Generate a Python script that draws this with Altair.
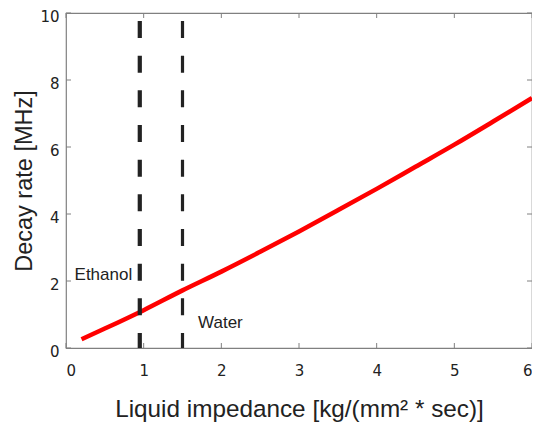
import altair as alt
import pandas as pd

# Curve data
impedance = [0.2, 0.5, 1.0, 1.5, 2.0, 2.5, 3.0, 3.5, 4.0, 4.5, 5.0, 5.5, 6.0]
decay_rate = [0.26, 0.58, 1.13, 1.72, 2.28, 2.87, 3.48, 4.11, 4.75, 5.41, 6.07, 6.76, 7.46]

# Reference liquids
liquids = ["Ethanol", "Water"]
liquid_impedance = [0.95, 1.5]
label_x = [0.11, 1.70]
label_y = [2.19, 0.76]

x_ticks = [0, 1, 2, 3, 4, 5, 6]
y_ticks = [0, 2, 4, 6, 8, 10]

W, H = 466, 335
FRAME = "#808080"
INK = "#222222"

curve = pd.DataFrame({"x": impedance, "y": decay_rate})
labels = pd.DataFrame({"name": liquids, "x": label_x, "y": label_y})
xt = pd.DataFrame({"v": x_ticks})
yt = pd.DataFrame({"v": y_ticks})

xscale = alt.Scale(domain=[0, 6], nice=False, zero=False)
yscale = alt.Scale(domain=[0, 10], nice=False, zero=False)

xaxis = alt.Axis(values=x_ticks, format="d", title="Liquid impedance [kg/(mm² * sec)]",
                 domain=False, ticks=False, tickSize=0, grid=False,
                 labelFont="DejaVu Sans", labelFontSize=15, labelColor=INK, labelPadding=15,
                 titleFont="Liberation Sans", titleFontSize=24.3, titleFontWeight="normal",
                 titleColor=INK, titlePadding=19)
yaxis = alt.Axis(values=y_ticks, format="d", title="Decay rate [MHz]",
                 domain=False, ticks=False, tickSize=0, grid=False,
                 labelFont="DejaVu Sans", labelFontSize=15, labelColor=INK, labelPadding=7,
                 labelOffset=3,
                 titleFont="Liberation Sans", titleFontSize=23.5, titleFontWeight="normal",
                 titleColor=INK, titlePadding=3)

line = alt.Chart(curve).mark_line(color="#ff0000", strokeWidth=4.5, interpolate="monotone").encode(
    x=alt.X("x:Q", scale=xscale, axis=xaxis),
    y=alt.Y("y:Q", scale=yscale, axis=yaxis),
)

period = 34.67
dash = [17, period - 17]
rule_e = alt.Chart(pd.DataFrame({"x": [liquid_impedance[0]]})).mark_rule(
    color=INK, strokeWidth=4.2, strokeDash=dash, strokeDashOffset=period - 8
).encode(x=alt.X("x:Q", scale=xscale))
rule_w = alt.Chart(pd.DataFrame({"x": [liquid_impedance[1]]})).mark_rule(
    color=INK, strokeWidth=3.2, strokeDash=dash, strokeDashOffset=period - 8
).encode(x=alt.X("x:Q", scale=xscale))

text = alt.Chart(labels).mark_text(align="left", baseline="middle", font="Liberation Sans",
                                   fontSize=17, color=INK).encode(
    x=alt.X("x:Q", scale=xscale), y=alt.Y("y:Q", scale=yscale), text="name:N")

tick_len = 5
bottom_ticks = alt.Chart(xt).mark_rule(color=FRAME, strokeWidth=1).encode(
    x=alt.X("v:Q", scale=xscale), y=alt.value(H), y2=alt.value(H - tick_len))
top_ticks = alt.Chart(xt).mark_rule(color=FRAME, strokeWidth=1).encode(
    x=alt.X("v:Q", scale=xscale), y=alt.value(0), y2=alt.value(tick_len))
left_ticks = alt.Chart(yt).mark_rule(color=FRAME, strokeWidth=1).encode(
    y=alt.Y("v:Q", scale=yscale), x=alt.value(0), x2=alt.value(tick_len))
right_ticks = alt.Chart(yt).mark_rule(color=FRAME, strokeWidth=1).encode(
    y=alt.Y("v:Q", scale=yscale), x=alt.value(W), x2=alt.value(W - tick_len))

chart = alt.layer(line, rule_e, rule_w, text, bottom_ticks, top_ticks, left_ticks, right_ticks).properties(
    width=W, height=H,
    autosize=alt.AutoSizeParams(type="none"),
    padding={"left": 58, "top": 5, "right": 0, "bottom": 75},
    background="white",
).configure_view(stroke=FRAME, strokeWidth=1.2)

chart.save("out.html", embed_options={"renderer": "svg", "actions": False})
